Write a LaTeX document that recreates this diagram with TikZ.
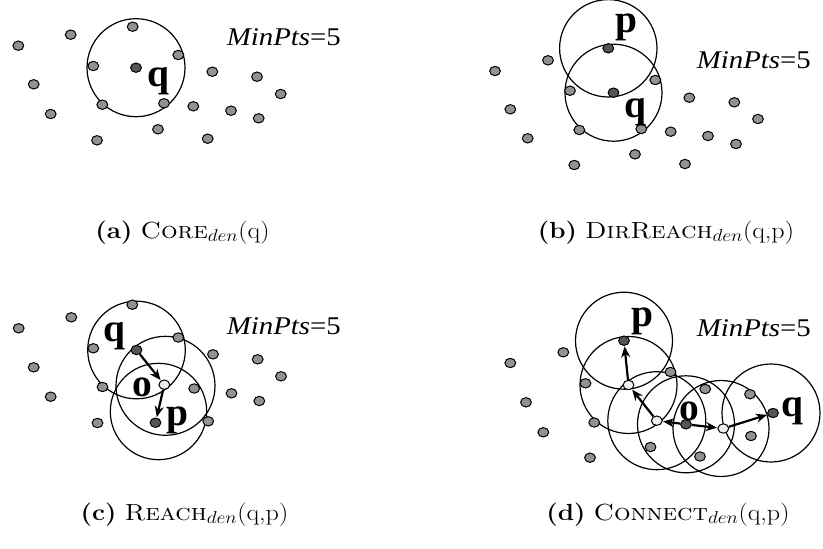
\documentclass[tikz,border=0pt]{standalone}
\usepackage{fontspec}
\usepackage{graphicx}
\newfontfamily\timesfam{Liberation Serif}[
  UprightFont=*, BoldFont=* Bold, ItalicFont=* Italic]
\usetikzlibrary{arrows.meta,shapes.geometric}
\pgfdeclarelayer{background}
\pgfsetlayers{background,main}

\definecolor{ptgray}{HTML}{929292}
\definecolor{ptdark}{HTML}{555555}
\definecolor{ptlight}{HTML}{EEEEEE}

\tikzset{
  pt/.style={ellipse, draw, line width=1pt, fill=ptgray,
             minimum width=10.8pt, minimum height=9.4pt, inner sep=0pt},
  coredot/.style={pt, fill=ptdark},
  borderdot/.style={pt, fill=ptlight},
  rng/.style={draw, line width=1.2pt},
  arr/.style={line width=2.2pt, -{Stealth[length=11pt,width=9pt]}, shorten >=0.5pt},
  lbl/.style={anchor=base west, inner sep=0pt,
              font=\timesfam\bfseries\fontsize{39.5}{40}\selectfont},
  mp/.style={anchor=base west, inner sep=0pt,
             font=\timesfam\fontsize{25.5}{26}\selectfont},
  captext/.style={anchor=base, inner sep=0pt,
              font=\fontsize{23.3}{24}\selectfont},
}
\newcommand{\mpts}{\scalebox{1.13}[1]{\textit{MinPts}=5}}

\begin{document}
\begin{tikzpicture}[x=1pt, y=-1pt]
\useasboundingbox (0,0) rectangle (823,549);
\begin{pgfonlayer}{background}
  \fill[white] (0,0) rectangle (823,549);
\end{pgfonlayer}

% ---------------- (a) core point ----------------
\foreach \px/\py [count=\i] in {132.7/26.7, 70.7/34.7, 18.3/45.7, 178.3/55, 93.3/66,
    212.3/71.7, 257/76.7, 33.7/84.3, 280.7/94, 102.3/104.7, 164/103.3,
    193.3/106.3, 231/110.7, 258.7/118.3, 50.7/114, 158/129.3, 97/140.3, 207.7/138.7}
  \node[pt] (a\i) at (\px,\py) {};
\node[coredot] (aq) at (136,67.7) {};
\begin{pgfonlayer}{background}
  \draw[rng] (aq) circle[radius=49];
\end{pgfonlayer}
\node[lbl] (aql) at (147.5,86) {q};
\node[mp] (amp) at (226.7,45) {\mpts};
\node[captext] (acap) at (182.5,238) {\scalebox{1.12}[1]{\textbf{(a)} \textsc{Core}$_{den}$(q)}};

% ---------------- (b) directly reachable ----------------
\foreach \px/\py [count=\i] in {548/60.3, 495/71, 655.3/80, 570/90.7, 689.3/97.7,
    734.3/102.3, 510.3/109.3, 758/119, 579.3/130, 641.3/129, 670.7/131.7,
    708/136, 736/144, 527.7/138.3, 635/154.3, 574.3/165, 685/164}
  \node[pt] (b\i) at (\px,\py) {};
\node[coredot] (bp) at (608.3,48.3) {};
\node[coredot] (bq) at (613.5,92.7) {};
\begin{pgfonlayer}{background}
  \draw[rng] (bp) circle[radius=48.7];
  \draw[rng] (bq) circle[radius=48.5];
\end{pgfonlayer}
\node[lbl] (bpl) at (615.7,32) {p};
\node[lbl] (bql) at (624,117) {q};
\node[mp] (bmp) at (696.7,68.3) {\mpts};
\node[captext] (bcap) at (666,238) {\scalebox{1.12}[1]{\textbf{(b)} \textsc{DirReach}$_{den}$(q,p)}};

% ---------------- (c) density reachable ----------------
\foreach \px/\py [count=\i] in {132.3/304.7, 71.3/317.3, 18.7/328.3, 178.3/337.5,
    93.3/348.3, 213/354.3, 257.7/359.3, 33.7/367.3, 281/376.3, 102.5/387,
    194.2/388.5, 231.5/393.3, 259.3/401, 50.7/396.7, 208.2/421.3, 97.5/423}
  \node[pt] (c\i) at (\px,\py) {};
\node[coredot] (cq) at (136.5,350) {};
\node[borderdot] (co) at (164.3,384.7) {};
\node[coredot] (cp) at (155.5,422.7) {};
\coordinate (cpc) at (158.5,411.5);
\begin{pgfonlayer}{background}
  \draw[rng] (cq) circle[radius=48.8];
  \draw[rng] (165.5,385.8) circle[radius=49.5];
  \draw[rng] (cpc) circle[radius=48.2];
\end{pgfonlayer}
\draw[arr] (cq) -- (co);
\draw[arr] (co) -- (cp);
\node[lbl] (cql) at (103,341) {q};
\node[lbl] (col) at (132.5,396.7) {o};
\node[lbl] (cpl) at (166.5,425) {p};
\node[mp] (cmp) at (226.7,334) {\mpts};
\node[captext] (ccap) at (184.5,520) {\scalebox{1.12}[1]{\textbf{(c)} \textsc{Reach}$_{den}$(q,p)}};

% ---------------- (d) density connected ----------------
\foreach \px/\py [count=\i] in {563.3/352.3, 510.3/363, 670.5/372, 585.5/383.3,
    705.2/389, 750/394.2, 526/402.3, 594.2/422.5, 751/436, 543.3/432.3,
    650.5/447, 700/456.5, 590/457.7}
  \node[pt] (d\i) at (\px,\py) {};
\node[coredot] (dp) at (624,340.7) {};
\node[borderdot] (dw1) at (628.5,385) {};
\node[borderdot] (dw2) at (656.8,420.7) {};
\node[coredot] (do) at (686,424.3) {};
\node[borderdot] (dw3) at (723.3,428.5) {};
\node[coredot] (dq) at (773,413) {};
\begin{pgfonlayer}{background}
  \draw[rng] (dp) circle[radius=48.5];
  \draw[rng] (dw1) circle[radius=48.5];
  \draw[rng] (dw2) circle[radius=49];
  \draw[rng] (do) circle[radius=48.5];
  \draw[rng] (721,428.5) circle[radius=48];
  \draw[rng] (771,413) circle[radius=49];
\end{pgfonlayer}
\draw[arr] (dw1) -- (dp);
\draw[arr] (dw2) -- (dw1);
\draw[arr] (do) -- (dw2);
\draw[arr] (do) -- (dw3);
\draw[arr] (dw3) -- (dq);
\node[lbl] (dpl) at (631,326) {p};
\node[lbl] (dol) at (679.5,420) {o};
\node[lbl] (dql) at (781,416) {q};
\node[mp] (dmp) at (696.7,336.7) {\mpts};
\node[captext] (dcap) at (668,520) {\scalebox{1.12}[1]{\textbf{(d)} \textsc{Connect}$_{den}$(q,p)}};
\end{tikzpicture}
\end{document}
